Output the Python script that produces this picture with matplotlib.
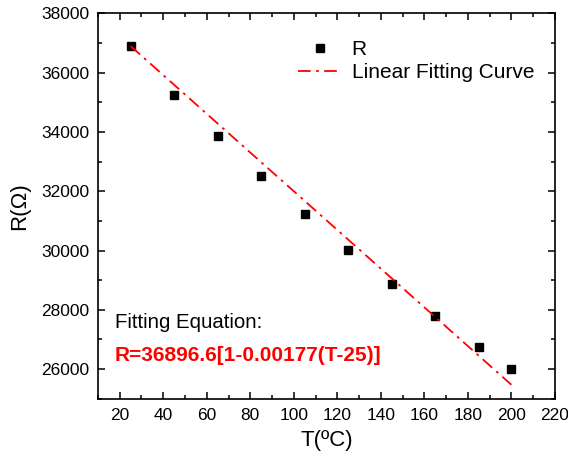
import matplotlib
matplotlib.use("Agg")
import matplotlib.pyplot as plt
from matplotlib.ticker import MultipleLocator

plt.rcParams['font.family'] = ['Liberation Sans', 'DejaVu Sans']

# measured resistance vs temperature
temps = [25, 45, 65, 85, 105, 125, 145, 165, 185, 200]
res = [36900, 35260, 33855, 32505, 31235, 30020, 28875, 27800, 26755, 26010]

# endpoints of the linear fitting curve
fit_t = [25, 200]
fit_r = [36896.6, 25470]

fig = plt.figure(figsize=(5.68, 4.62), dpi=100)
ax = fig.add_axes([0.1725, 0.137, 0.8045, 0.834])

ax.plot(temps, res, linestyle='none', marker='s', markersize=6, color='black', label='R')
ax.plot(fit_t, fit_r, color='red', lw=1.3, linestyle=(0, (7, 3, 1.5, 3)),
        label='Linear Fitting Curve')

ax.set_xlim(10, 220)
ax.set_ylim(25000, 38000)
ax.xaxis.set_major_locator(MultipleLocator(20))
ax.xaxis.set_minor_locator(MultipleLocator(10))
ax.yaxis.set_major_locator(MultipleLocator(2000))
ax.yaxis.set_minor_locator(MultipleLocator(1000))
ax.tick_params(which='both', direction='in', top=True, right=True, width=1.1, labelsize=12.5)
ax.tick_params(which='major', length=5)
ax.tick_params(axis='x', which='major', pad=7)
ax.tick_params(axis='y', which='major', pad=6)
ax.tick_params(which='minor', length=3)
for s in ax.spines.values():
    s.set_linewidth(1.2)

ax.set_xlabel('T(ºC)', fontsize=16, labelpad=5)
ax.set_ylabel('R(Ω)', fontsize=16, labelpad=8)

ax.legend(loc='upper right', frameon=False, fontsize=15, handlelength=2.1,
          handletextpad=0.45, borderaxespad=0.6, labelspacing=0.2,
          bbox_to_anchor=(1.0, 0.985))

ax.text(0.037, 0.199, 'Fitting Equation:', transform=ax.transAxes, fontsize=14.7,
        va='center', ha='left')
ax.text(0.037, 0.113, 'R=36896.6[1-0.00177(T-25)]', transform=ax.transAxes, fontsize=15,
        fontweight='bold', color='red', va='center', ha='left')

fig.savefig('out.png', dpi=100)
